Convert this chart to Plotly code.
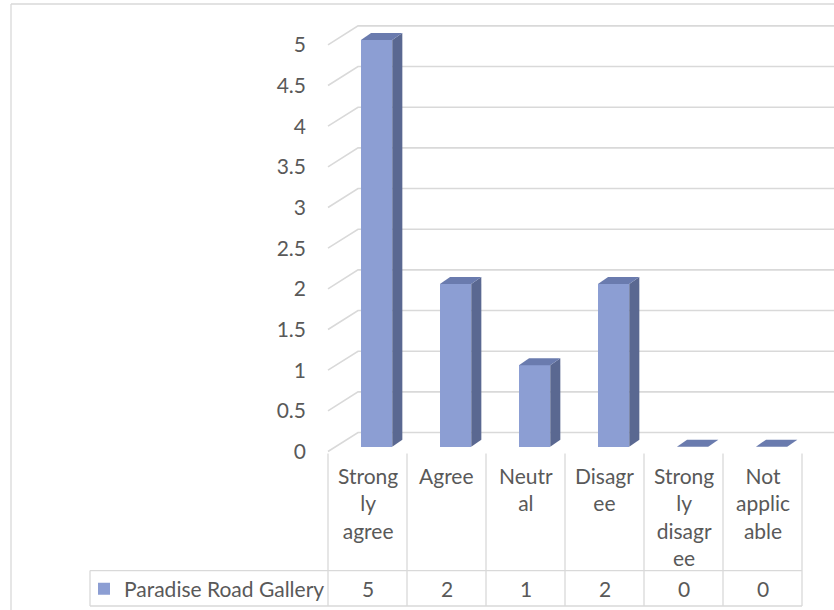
import plotly.graph_objects as go

# ---- data ----
categories = ["Strongly agree", "Agree", "Neutral", "Disagree", "Strongly disagree", "Not applicable"]
category_lines = ["Strong<br>ly<br>agree", "Agree", "Neutr<br>al", "Disagr<br>ee",
                  "Strong<br>ly<br>disagr<br>ee", "Not<br>applic<br>able"]
series_name = "Paradise Road Gallery"
values = [5, 2, 1, 2, 0, 0]
tick_values = [0, 0.5, 1, 1.5, 2, 2.5, 3, 3.5, 4, 4.5, 5]
tick_labels = ["0", "0.5", "1", "1.5", "2", "2.5", "3", "3.5", "4", "4.5", "5"]

# ---- style ----
W, H = 834, 610
FONT = "Lato"
FS = 21
TXT = "#595959"
GRID = "#D9D9D9"
FRONT = "#8C9ED3"
SIDE = "#5A6891"
TOP = "#6A7BAE"

# pixel scale of the data axes (one category = 79 px, one unit = 81.6 px)
PX_X, PX_Y = 79.0, 81.6
X0_PX, Y0_PX = 367.5, 453.0          # pixel of category 0 / value 0 on the front plane
x_range = [(0 - X0_PX) / PX_X, (W - X0_PX) / PX_X]
y_range = [(Y0_PX - H) / PX_Y, (Y0_PX - 0) / PX_Y]

def px_x(p):
    return (p - X0_PX) / PX_X

def px_y(p):
    return (Y0_PX - p) / PX_Y

# depth of the walls and of the columns
WALL_DX, WALL_DY = 0.38, 0.233
BAR_SHIFT_X, BAR_SHIFT_Y = 0.115, 0.06
BAR_W = 0.396
BAR_DX, BAR_DY = 0.128, 0.086

fig = go.Figure()
shapes = []

# back-wall and side-wall gridlines (kept below the columns)
for v in tick_values:
    path = "M {a},{b} L {c},{d} L {e},{d}".format(
        a=-0.5, b=v, c=-0.5 + WALL_DX, d=v + WALL_DY, e=x_range[1] + 1)
    shapes.append(dict(type="path", xref="x", yref="y", path=path, layer="below",
                       line=dict(color=GRID, width=1.6)))

# columns: front faces
xs = [i + BAR_SHIFT_X for i in range(len(values))]
fig.add_trace(go.Bar(x=xs, y=values, base=[BAR_SHIFT_Y] * len(values), width=BAR_W,
                     marker=dict(color=FRONT, line=dict(width=0)), name=series_name,
                     showlegend=True, hoverinfo="skip"))

# columns: side and top faces
for xc, v in zip(xs, values):
    xl, xr = xc - BAR_W / 2, xc + BAR_W / 2
    b = BAR_SHIFT_Y
    if v > 0:
        fig.add_trace(go.Scatter(
            x=[xr, xr + BAR_DX, xr + BAR_DX, xr, xr],
            y=[b, b + BAR_DY, b + v + BAR_DY, b + v, b],
            mode="lines", fill="toself", fillcolor=SIDE, line=dict(width=0, color=SIDE),
            hoverinfo="skip", showlegend=False))
    fig.add_trace(go.Scatter(
        x=[xl, xr, xr + BAR_DX, xl + BAR_DX, xl],
        y=[b + v, b + v, b + v + BAR_DY, b + v + BAR_DY, b + v],
        mode="lines", fill="toself", fillcolor=TOP, line=dict(width=0, color=TOP),
        hoverinfo="skip", showlegend=False))

# data table beneath the plot
n = len(categories)
t_top, t_mid, t_bot = px_y(455), px_y(572.5), px_y(608)
legend_left = px_x(90)
for k in range(n + 1):
    shapes.append(dict(type="line", xref="x", yref="y", x0=k - 0.5, x1=k - 0.5,
                       y0=t_top, y1=t_bot, line=dict(color=GRID, width=1.3)))
shapes.append(dict(type="line", xref="x", yref="y", x0=legend_left, x1=legend_left,
                   y0=t_mid, y1=t_bot, line=dict(color=GRID, width=1.3)))
for yy in (t_mid, t_bot):
    shapes.append(dict(type="line", xref="x", yref="y", x0=legend_left, x1=n - 0.5,
                       y0=yy, y1=yy, line=dict(color=GRID, width=1.3)))
# chart frame
shapes.append(dict(type="line", xref="paper", yref="paper", x0=11 / W, x1=1.01,
                   y0=1 - 4 / H, y1=1 - 4 / H, line=dict(color=GRID, width=1.3)))
shapes.append(dict(type="line", xref="paper", yref="paper", x0=11 / W, x1=11 / W,
                   y0=-0.01, y1=1 - 4 / H, line=dict(color=GRID, width=1.3)))

annotations = []
for i, (lab, v) in enumerate(zip(category_lines, values)):
    annotations.append(dict(x=i, y=px_y(463), xref="x", yref="y", text=lab,
                            showarrow=False, xanchor="center", yanchor="top",
                            font=dict(family=FONT, size=FS, color=TXT)))
    annotations.append(dict(x=i, y=px_y(590), xref="x", yref="y", text=str(v),
                            showarrow=False, xanchor="center", yanchor="middle",
                            font=dict(family=FONT, size=FS, color=TXT)))

fig.update_layout(
    width=W, height=H,
    margin=dict(l=0, r=0, t=0, b=0),
    paper_bgcolor="white", plot_bgcolor="rgba(0,0,0,0)",
    font=dict(family=FONT, size=FS, color=TXT),
    showlegend=True,
    legend=dict(x=84 / W, y=1 - 591 / H, xanchor="left", yanchor="middle",
                bgcolor="rgba(0,0,0,0)", borderwidth=0, itemwidth=30,
                font=dict(family=FONT, size=FS, color=TXT)),
    xaxis=dict(range=x_range, visible=False, fixedrange=True),
    yaxis=dict(range=y_range, anchor="free", position=328 / W, showgrid=False,
               zeroline=False, showline=False, ticks="",
               tickvals=tick_values, ticktext=tick_labels, ticklabelstandoff=22,
               tickfont=dict(family=FONT, size=FS, color=TXT), fixedrange=True),
    shapes=shapes,
    annotations=annotations,
    bargap=0,
)

fig.write_html("out.html")
